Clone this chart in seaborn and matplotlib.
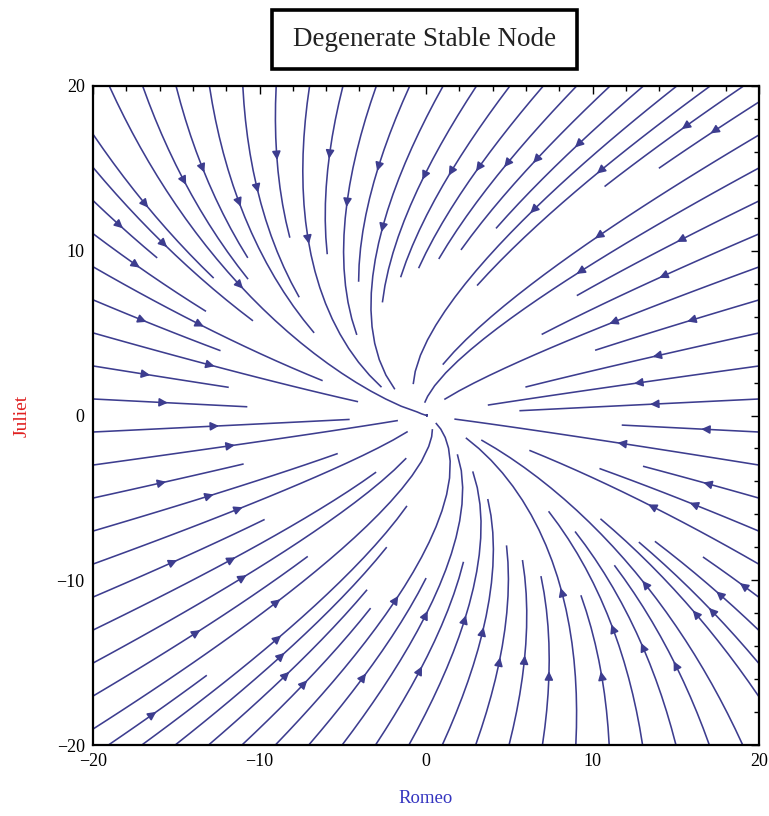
import numpy as np
import matplotlib
matplotlib.use("Agg")
import matplotlib.pyplot as plt
from matplotlib.patches import Rectangle
import seaborn as sns

# ---- data: linear system  R' = a*R + b*J ,  J' = c*R + d*J  (degenerate stable node)
romeo_coef = [-1.0, -0.5]    # a, b
juliet_coef = [0.0, -1.0]    # c, d
axis_range = [-20, 20]
major_ticks = [-20, -10, 0, 10, 20]
minor_step = 2
title_text = "Degenerate Stable Node"
x_label = "Romeo"
y_label = "Juliet"

sns.set_theme(style="white")
plt.rcParams['font.family'] = ['Liberation Serif', 'DejaVu Serif']

W, H = 769, 816
fig = plt.figure(figsize=(W / 100, H / 100), dpi=100)
fig.patch.set_facecolor("white")

L, R_, T, B = 93, 759, 86, 745
ax = fig.add_axes([L / W, 1 - B / H, (R_ - L) / W, (B - T) / H])
ax.set_facecolor("white")

g = np.linspace(axis_range[0], axis_range[1], 200)
X, Y = np.meshgrid(g, g)
U = romeo_coef[0] * X + romeo_coef[1] * Y
V = juliet_coef[0] * X + juliet_coef[1] * Y

# seed streamlines along the frame (like Mathematica's StreamPlot)
lo, hi = axis_range
edge = hi - 0.05
s = np.arange(lo + 1.0, hi, 2.0)
seeds = np.vstack([
    np.column_stack([s, np.full_like(s, edge)]),
    np.column_stack([np.full_like(s, -edge), s]),
    np.column_stack([s, np.full_like(s, -edge)]),
    np.column_stack([np.full_like(s, edge), s]),
])

line_color = "#3d3d8f"
kw = dict(density=1.3, color=line_color, linewidth=1.15, arrowsize=1.25,
          arrowstyle="-|>", start_points=seeds, broken_streamlines=True)
try:
    ax.streamplot(X, Y, U, V, num_arrows=3, **kw)
except TypeError:
    ax.streamplot(X, Y, U, V, **kw)

ax.set_xlim(axis_range)
ax.set_ylim(axis_range)
ax.set_xticks(major_ticks)
ax.set_yticks(major_ticks)
lab = [str(t) if t >= 0 else "\u2212" + str(-t) for t in major_ticks]
ax.set_xticklabels(lab)
ax.set_yticklabels(lab)
ax.set_xticks(np.arange(lo, hi + 0.1, minor_step), minor=True)
ax.set_yticks(np.arange(lo, hi + 0.1, minor_step), minor=True)
ax.tick_params(which="both", direction="in", top=True, right=True, colors="black",
               labelsize=13, width=1.0)
ax.tick_params(which="major", length=6, pad=6)
ax.tick_params(which="minor", length=3.5)
for sp in ax.spines.values():
    sp.set_visible(True)
    sp.set_color("black")
    sp.set_linewidth(1.6)

ax.set_xlabel(x_label, color="#3535c0", fontsize=13.5)
ax.set_ylabel(y_label, color="#e02020", fontsize=14)
ax.xaxis.set_label_coords(0.5, -0.068)
ax.yaxis.set_label_coords(-0.094, 0.5)

# title box
bx0, bx1, by0, by1 = 272, 577, 10, 69
fig.patches.append(Rectangle((bx0 / W, 1 - by1 / H), (bx1 - bx0) / W, (by1 - by0) / H,
                             transform=fig.transFigure, fill=True, facecolor="white",
                             edgecolor="black", linewidth=2.6, zorder=5))
fig.text((bx0 + bx1) / 2 / W, 1 - (by0 + by1) / 2 / H, title_text, ha="center",
         va="center", fontsize=19.5, color="#222222", zorder=6)

fig.savefig("out.png", dpi=100, facecolor="white")
